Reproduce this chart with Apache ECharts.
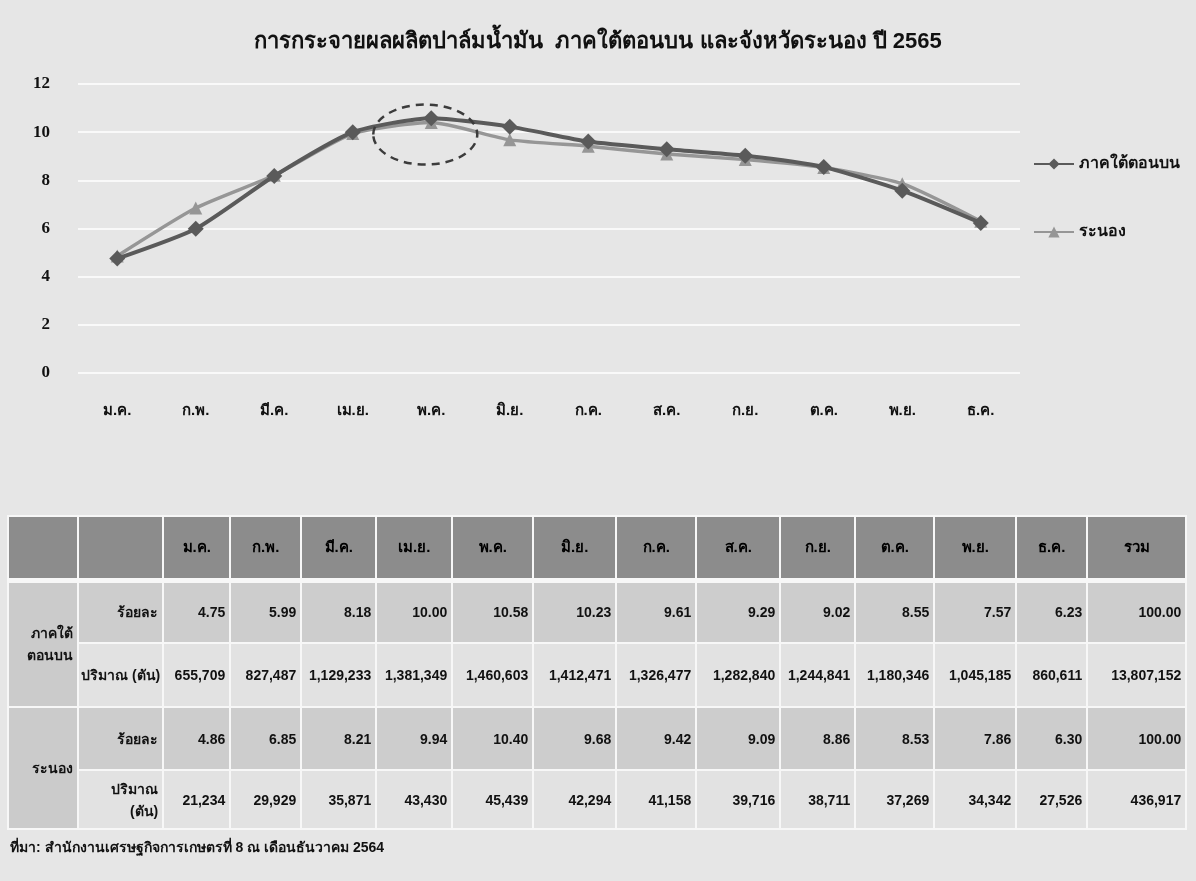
<!DOCTYPE html>
<html>
<head>
<meta charset="utf-8">
<script src="https://cdn.jsdelivr.net/npm/echarts@6/dist/echarts.min.js"></script>
<style>
  html, body { margin:0; padding:0; background:#e6e6e6; }
  #wrap { position:relative; width:1196px; height:881px; overflow:hidden; background:#e6e6e6; }
  #chart { position:absolute; left:0; top:0; width:1196px; height:881px; }
  #tbl { position:absolute; left:7px; top:515px; border-collapse:collapse; table-layout:fixed;
         font-family:"Liberation Sans Narrow","Liberation Sans","Noto Sans",sans-serif; font-weight:bold; font-size:14px; color:#111; }
  #tbl td { border:2px solid #f7f7f7; padding:0 4px; box-sizing:border-box; white-space:nowrap; }
  #tbl tr.hd td { background:#8c8c8c; text-align:center; height:64px; border-bottom:5px solid #f7f7f7; font-size:15px; color:#000; }
  #tbl tr.pct td { background:#cdcdcd; text-align:right; height:63px; }
  #tbl tr.qty td { background:#e2e2e2; text-align:right; height:64px; }
  #tbl tr.qty.last td { height:59px; }
  #tbl td.grp { background:#cbcbcb !important; text-align:center; }
  #tbl td.lab { text-align:center; }
  #src { position:absolute; left:10px; top:836px; font-family:"Liberation Sans Narrow","Liberation Sans",sans-serif; font-weight:bold; font-size:14px; color:#111; }
</style>
</head>
<body>
<div id="wrap">
  <div id="chart"></div>
  <table id="tbl"></table>
  <div id="src"></div>
</div>
<script>
// ---- data ----
const titleText = 'การกระจายผลผลิตปาล์มน้ำมัน  ภาคใต้ตอนบน และจังหวัดระนอง ปี 2565';
const months = ['ม.ค.','ก.พ.','มี.ค.','เม.ย.','พ.ค.','มิ.ย.','ก.ค.','ส.ค.','ก.ย.','ต.ค.','พ.ย.','ธ.ค.'];
const seriesNames = ['ภาคใต้ตอนบน','ระนอง'];
const upperPct = [4.75,5.99,8.18,10.00,10.58,10.23,9.61,9.29,9.02,8.55,7.57,6.23];
const ranongPct = [4.86,6.85,8.21,9.94,10.40,9.68,9.42,9.09,8.86,8.53,7.86,6.30];
const upperQty = [655709,827487,1129233,1381349,1460603,1412471,1326477,1282840,1244841,1180346,1045185,860611];
const ranongQty = [21234,29929,35871,43430,45439,42294,41158,39716,38711,37269,34342,27526];
const upperTotalPct = '100.00', upperTotalQty = 13807152;
const ranongTotalPct = '100.00', ranongTotalQty = 436917;
const totalLabel = 'รวม';
const rowPctLabel = 'ร้อยละ';
const rowQtyLabel = 'ปริมาณ (ตัน)';
const rowQtyLabel2 = ['ปริมาณ','(ตัน)'];
const groupLabels = [['ภาคใต้','ตอนบน'], ['ระนอง']];
const sourceText = 'ที่มา: สำนักงานเศรษฐกิจการเกษตรที่ 8 ณ เดือนธันวาคม 2564';
const highlightMonth = 'พ.ค.';

// ---- table ----
const colW = [70,85,67,71,75,76,81,83,80,84,75,79,82,71,99];
const fmtQ = v => v.toLocaleString('en-US');
const fmtP = v => v.toFixed(2);
let html = '<colgroup>' + colW.map(w => '<col style="width:'+w+'px">').join('') + '</colgroup>';
html += '<tr class="hd"><td></td><td></td>' + months.map(m => '<td>'+m+'</td>').join('') + '<td>'+totalLabel+'</td></tr>';
html += '<tr class="pct"><td class="grp" rowspan="2">'+groupLabels[0].join('<br>')+'</td><td class="lab">'+rowPctLabel+'</td>' +
        upperPct.map(v => '<td>'+fmtP(v)+'</td>').join('') + '<td>'+upperTotalPct+'</td></tr>';
html += '<tr class="qty"><td class="lab" style="padding:0 2px">'+rowQtyLabel+'</td>' +
        upperQty.map(v => '<td>'+fmtQ(v)+'</td>').join('') + '<td>'+fmtQ(upperTotalQty)+'</td></tr>';
html += '<tr class="pct"><td class="grp" rowspan="2">'+groupLabels[1].join('<br>')+'</td><td class="lab">'+rowPctLabel+'</td>' +
        ranongPct.map(v => '<td>'+fmtP(v)+'</td>').join('') + '<td>'+ranongTotalPct+'</td></tr>';
html += '<tr class="qty last"><td class="lab">'+rowQtyLabel2.join('<br>')+'</td>' +
        ranongQty.map(v => '<td>'+fmtQ(v)+'</td>').join('') + '<td>'+fmtQ(ranongTotalQty)+'</td></tr>';
document.getElementById('tbl').innerHTML = html;
document.getElementById('src').textContent = sourceText;

// ---- chart ----
const chart = echarts.init(document.getElementById('chart'), null, {renderer:'canvas'});
const thaiFont = '"Liberation Sans Narrow","Liberation Sans","Noto Sans",sans-serif';
const option = {
  backgroundColor: '#e6e6e6',
  animation: false,
  title: {
    text: titleText, left: 'center', top: 26,
    textStyle: { fontSize: 22, fontWeight: 'bold', color: '#111', fontFamily: thaiFont }
  },
  legend: {
    orient: 'vertical', left: 1028, top: 151, itemGap: 52,
    itemWidth: 40, itemHeight: 14,
    textStyle: { fontSize: 16, fontWeight: 'bold', color: '#111', fontFamily: thaiFont },
    data: seriesNames
  },
  grid: { left: 78, right: 176, top: 84, bottom: 508 },
  xAxis: {
    type: 'category', data: months, boundaryGap: true,
    axisLine: { show: false }, axisTick: { show: false },
    axisLabel: { margin: 30, fontSize: 15, fontWeight: 'bold', color: '#111', fontFamily: thaiFont }
  },
  yAxis: {
    type: 'value', min: 0, max: 12, interval: 2,
    axisLine: { show: false }, axisTick: { show: false },
    splitLine: { lineStyle: { color: '#ffffff', width: 1.5 } },
    axisLabel: { margin: 28, fontSize: 17, fontWeight: 'bold', color: '#111', fontFamily: '"Liberation Serif","DejaVu Serif",serif' }
  },
  series: [
    { name: seriesNames[0], type: 'line', data: upperPct, smooth: 0.2,
      symbol: 'diamond', symbolSize: 16,
      lineStyle: { color: '#5a5a5a', width: 4 }, itemStyle: { color: '#5a5a5a' }, z: 3 },
    { name: seriesNames[1], type: 'line', data: ranongPct, smooth: 0.2,
      symbol: 'triangle', symbolSize: 13,
      lineStyle: { color: '#969696', width: 3.5 }, itemStyle: { color: '#969696' }, z: 2 }
  ]
};
chart.setOption(option);

const c = chart.convertToPixel({ xAxisIndex: 0, yAxisIndex: 0 }, [highlightMonth, 9.9]);
chart.setOption({
  graphic: [{
    type: 'ellipse', shape: { cx: c[0] - 6, cy: c[1], rx: 52, ry: 30 },
    style: { fill: 'none', stroke: '#3c3c3c', lineWidth: 2.5, lineDash: [8, 6] }, z: 10
  }]
});
</script>
</body>
</html>
